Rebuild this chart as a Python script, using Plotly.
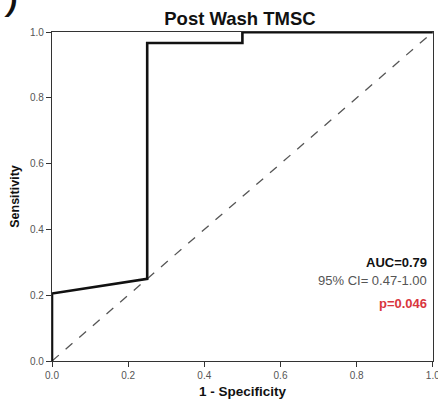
import plotly.graph_objects as go

# ROC curve points (1 - specificity, sensitivity)
fpr = [0.0, 0.0, 0.25, 0.25, 0.5, 0.5, 1.0]
tpr = [0.0, 0.205, 0.25, 0.967, 0.967, 1.0, 1.0]
ref_x = [0.0, 1.0]
ref_y = [0.0, 1.0]
tick_vals = [0.0, 0.2, 0.4, 0.6, 0.8, 1.0]
tick_text = ["0.0", "0.2", "0.4", "0.6", "0.8", "1.0"]
title_text = "Post Wash TMSC"
auc_text = "AUC=0.79"
ci_text = "95% CI= 0.47-1.00"
p_text = "p=0.046"

FONT = "Liberation Sans, Arial, sans-serif"

fig = go.Figure()
fig.add_trace(go.Scatter(x=ref_x, y=ref_y, mode="lines",
                         line=dict(color="#555555", width=1.3, dash="dash"),
                         hoverinfo="skip", showlegend=False))
fig.add_trace(go.Scatter(x=fpr, y=tpr, mode="lines",
                         line=dict(color="#111111", width=2.6),
                         showlegend=False))

axis_common = dict(
    tickvals=tick_vals, ticktext=tick_text,
    ticks="outside", ticklen=5, tickwidth=1, tickcolor="#333333",
    showline=True, linecolor="#333333", linewidth=1.2, mirror=True,
    showgrid=False, zeroline=False, ticklabeloverflow="allow",
    automargin=False,
    tickfont=dict(family=FONT, size=10, color="#555555"),
)

fig.update_layout(
    width=438, height=399,
    margin=dict(l=52, r=5, t=32, b=38),
    paper_bgcolor="white", plot_bgcolor="white",
    title=dict(text="<b>" + title_text + "</b>", x=240 / 438, xanchor="center",
               y=1 - 19 / 399, yanchor="middle",
               font=dict(family=FONT, size=18.5, color="#111111")),
    xaxis=dict(**axis_common, range=[0, 1.0005],
               title=dict(text="<b>1 - Specificity</b>", standoff=8,
                          font=dict(family=FONT, size=13.5, color="#111111"))),
    yaxis=dict(**axis_common, range=[0, 1.0005],
               title=dict(text="<b>Sensitivity</b>", standoff=7,
                          font=dict(family=FONT, size=12.5, color="#111111"))),
    annotations=[
        dict(text="<b>" + auc_text + "</b>", x=0.99, y=0.30, xref="x", yref="y",
             xanchor="right", yanchor="middle", showarrow=False,
             font=dict(family=FONT, size=13, color="#111111")),
        dict(text=ci_text, x=0.99, y=0.245, xref="x", yref="y",
             xanchor="right", yanchor="middle", showarrow=False,
             font=dict(family=FONT, size=13, color="#555555")),
        dict(text="<b>" + p_text + "</b>", x=0.99, y=0.175, xref="x", yref="y",
             xanchor="right", yanchor="middle", showarrow=False,
             font=dict(family=FONT, size=13, color="#d9363e")),
        dict(text="<b><i>)</i></b>", x=-0.131, y=1.097, xref="paper", yref="paper",
             xanchor="left", yanchor="middle", showarrow=False,
             font=dict(family=FONT, size=30, color="#111111")),
    ],
)

fig.write_html("out.html")
